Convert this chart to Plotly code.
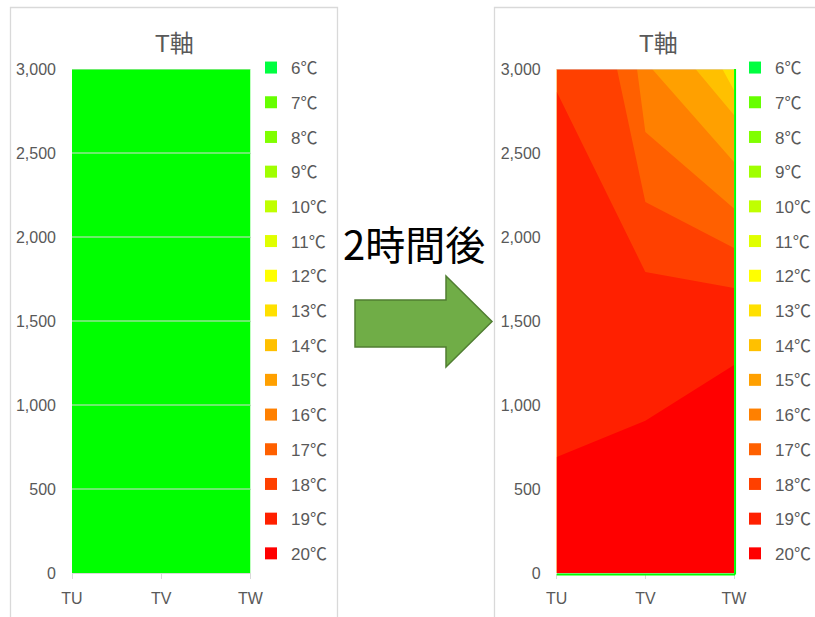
import math
import plotly.graph_objects as go

W, H = 815, 617

# ---------------- data ----------------
sections = ["TU", "TV", "TW"]
depth_ticks = [0, 500, 1000, 1500, 2000, 2500, 3000]

legend_temps = list(range(6, 21))
legend_colors = ["#00FF40", "#66FF00", "#80FF00", "#A0FF00", "#C0FF00",
                 "#E0FF00", "#FFFF00", "#FFE000", "#FFC000", "#FFA000",
                 "#FF8000", "#FF6000", "#FF4000", "#FF2000", "#FF0000"]
below_range_color = "#00FF00"

# before: uniform temperature (below the 6℃ band)
before_temp = 5.0

# after 2 hours: coldest temperature (top of TW) and isotherm heights per section
after_min_temp = 13.6
iso_levels = [14, 15, 16, 17, 18, 19, 20]
iso_TU = [8000, 7500, 7000, 6614, 4683, 2865, 690]   # values above 3000 lie above the section
iso_TV = [3842, 3357, 3046, 2625, 2208, 1792, 906]
iso_TW = [2873, 2726, 2446, 2169, 1935, 1696, 1238]

GRAY = "#595959"
LIGHT = "#D9D9D9"
FONT = "Liberation Sans, Noto Sans CJK JP, sans-serif"


def band_color(t):
    if t < legend_temps[0]:
        return below_range_color
    idx = min(int(math.floor(t)) - legend_temps[0], len(legend_colors) - 1)
    return legend_colors[idx]


def px(x, y):
    return x / W, 1 - y / H


fig = go.Figure()

panels = [
    dict(xa="x", ya="y", legend="legend", base=before_temp, levels=[], tu=[], tv=[], tw=[]),
    dict(xa="x2", ya="y2", legend="legend2", base=after_min_temp,
         levels=iso_levels, tu=iso_TU, tv=iso_TV, tw=iso_TW),
]

for p in panels:
    top = depth_ticks[-1]
    fig.add_trace(go.Scatter(x=sections, y=[top] * len(sections), mode="lines",
                             line=dict(width=0), fill="tozeroy",
                             fillcolor=band_color(p["base"]), showlegend=False,
                             hoverinfo="skip", xaxis=p["xa"], yaxis=p["ya"]))
    for lev, a, b, c in zip(p["levels"], p["tu"], p["tv"], p["tw"]):
        fig.add_trace(go.Scatter(x=sections, y=[a, b, c], mode="lines",
                                 line=dict(width=0), fill="tozeroy",
                                 fillcolor=band_color(lev), showlegend=False,
                                 name=f"{lev}℃", xaxis=p["xa"], yaxis=p["ya"]))
    for t, col in zip(legend_temps, legend_colors):
        fig.add_trace(go.Scatter(x=[None], y=[None], mode="markers",
                                 marker=dict(symbol="square", size=12, color=col),
                                 name=f"{t}℃", legend=p["legend"],
                                 legendgroup=f"{p['legend']}_{t}",
                                 xaxis=p["xa"], yaxis=p["ya"]))

# ---------------- axes ----------------
ydom = [(H - 573) / H, (H - 69) / H]
xdoms = [[72 / W, 250.5 / W], [556.7 / W, 734 / W]]

for i, (xa, ya) in enumerate([("xaxis", "yaxis"), ("xaxis2", "yaxis2")]):
    anchor_x = "y" if i == 0 else "y2"
    anchor_y = "x" if i == 0 else "x2"
    fig.layout[xa] = dict(domain=xdoms[i], anchor=anchor_x, type="category",
                          categoryorder="array", categoryarray=sections,
                          range=[0, len(sections) - 1], showgrid=False,
                          showline=True, linecolor=LIGHT, linewidth=1,
                          ticks="outside", ticklen=5, tickcolor=LIGHT,
                          ticklabelstandoff=6, zeroline=False, automargin=False,
                          tickfont=dict(family=FONT, size=16, color=GRAY),
                          fixedrange=True)
    fig.layout[ya] = dict(domain=ydom, anchor=anchor_y, range=[0, depth_ticks[-1]],
                          tickvals=depth_ticks, tickformat=",", ticks="",
                          showgrid=True, gridcolor=LIGHT, zeroline=False,
                          showline=False, ticklabelstandoff=15, automargin=False,
                          tickfont=dict(family=FONT, size=16, color=GRAY),
                          fixedrange=True)

shapes = []
# gridlines visible over the flat surface of the left chart
for v in depth_ticks[1:]:
    shapes.append(dict(type="line", xref="x domain", yref="y", x0=0, x1=1, y0=v, y1=v,
                       line=dict(color=LIGHT, width=1), layer="above"))
# top gridline of right chart
shapes.append(dict(type="line", xref="x2 domain", yref="y2", x0=0, x1=1,
                   y0=depth_ticks[-1], y1=depth_ticks[-1],
                   line=dict(color=LIGHT, width=1), layer="above"))
# green edge lines on right chart
shapes.append(dict(type="line", xref="x2 domain", yref="y2 domain", x0=0, x1=1.006,
                   y0=-0.003, y1=-0.003, line=dict(color=below_range_color, width=2),
                   layer="above"))
shapes.append(dict(type="line", xref="x2 domain", yref="y2 domain", x0=1.006, x1=1.006,
                   y0=-0.003, y1=1, line=dict(color=below_range_color, width=2),
                   layer="above"))

# chart borders
for (x0, x1) in [(10.5, 337.5), (494.5, 840)]:
    a = px(x0, 7.5)
    b = px(x1, 650)
    shapes.append(dict(type="rect", xref="paper", yref="paper", x0=a[0], x1=b[0],
                       y0=b[1], y1=a[1], line=dict(color=LIGHT, width=1.3),
                       fillcolor="rgba(0,0,0,0)", layer="below"))

# arrow
arrow_pts = [(355, 300), (446, 300), (446, 276), (492, 321.5), (446, 367), (446, 347), (355, 347)]
path = ""
for k, (x, y) in enumerate(arrow_pts):
    X, Y = px(x, y)
    path += ("M" if k == 0 else "L") + f"{X:.5f},{Y:.5f} "
path += "Z"
shapes.append(dict(type="path", xref="paper", yref="paper", path=path,
                   fillcolor="#70AD47", line=dict(color="#507E32", width=1.5)))

annotations = []
for cx in (174, 658):
    X, Y = px(cx, 43)
    annotations.append(dict(text="T軸", x=X, y=Y, xref="paper", yref="paper",
                            xanchor="center", yanchor="middle", showarrow=False,
                            font=dict(family=FONT, size=24, color=GRAY)))
X, Y = px(414, 243)
annotations.append(dict(text="2時間後", x=X, y=Y, xref="paper", yref="paper",
                        xanchor="center", yanchor="middle", showarrow=False,
                        font=dict(family="Noto Sans CJK JP", size=40, color="#000000")))

leg_common = dict(bgcolor="rgba(0,0,0,0)", borderwidth=0, tracegroupgap=9.6,
                  font=dict(family=FONT, size=17, color=GRAY),
                  xanchor="left", yanchor="top", itemclick=False, itemdoubleclick=False)

fig.update_layout(
    width=W, height=H, autosize=False,
    margin=dict(l=0, r=0, t=0, b=0, autoexpand=False),
    paper_bgcolor="white", plot_bgcolor="white",
    shapes=shapes, annotations=annotations,
    legend=dict(x=251 / W, y=1 - 50 / H, **leg_common),
    legend2=dict(x=735 / W, y=1 - 50 / H, **leg_common),
    hovermode=False,
)

fig.write_html("out.html")
